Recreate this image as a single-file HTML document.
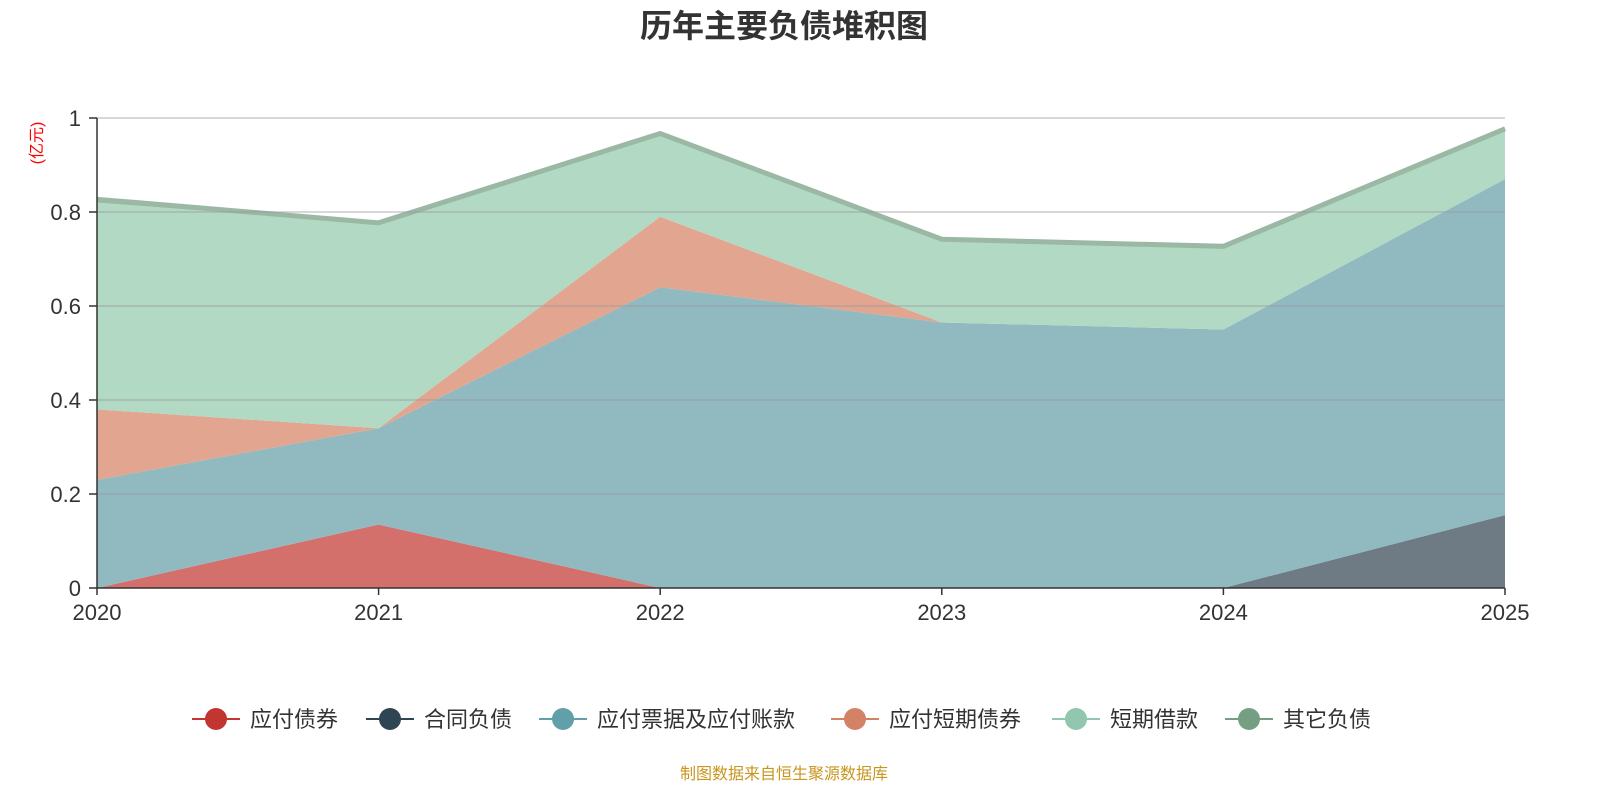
<!DOCTYPE html>
<html><head><meta charset="utf-8"><style>
body{margin:0;background:#fff;}
svg{display:block;font-family:"Liberation Sans","Noto Sans CJK SC",sans-serif;}
</style></head><body>
<svg id="c" width="1600" height="800">
<text x="784" y="37" text-anchor="middle" font-size="32" font-weight="bold" fill="#333">历年主要负债堆积图</text>
<text transform="translate(42,143) rotate(-90)" text-anchor="middle" font-size="16" fill="#f00">(亿元)</text>
<g id="areas"></g>
<g id="grid"></g>
<g id="axes"></g>
<g id="legend"></g>
<text x="784" y="779" text-anchor="middle" font-size="16" fill="#c8961e">制图数据来自恒生聚源数据库</text>
</svg>
<script>
const years=['2020','2021','2022','2023','2024','2025'];
const yTicks=[0,0.2,0.4,0.6,0.8,1];
const seriesNames=['应付债券','合同负债','应付票据及应付账款','应付短期债券','短期借款','其它负债'];
const bonds=[0,0.135,0,0,0,0];
const contract=[0,0,0,0,0,0.155];
const payables=[0.23,0.205,0.64,0.565,0.55,0.715];
const shortBonds=[0.15,0,0.15,0,0,0];
const shortLoans=[0.44,0.435,0.175,0.175,0.175,0.105];
const others=[0.01,0.005,0.005,0.005,0.005,0.005];
const fills=['#d4706c','#6e7b85','#91b9c0','#e1a590','#b2d9c4','#9ab8a4'];
const legendColors=['#c23531','#2f4554','#61a0a8','#d48265','#91c7ae','#749f83'];
const X0=97,X1=1505,Y0=588,Y1=118;
const xs=i=>X0+(X1-X0)*i/(years.length-1);
const ys=v=>Y0-(Y0-Y1)*v;
const NS='http://www.w3.org/2000/svg';
function mk(t,a,p){const e=document.createElementNS(NS,t);for(const k in a)e.setAttribute(k,a[k]);p.appendChild(e);return e;}
const data=[bonds,contract,payables,shortBonds,shortLoans,others];
const areas=document.getElementById('areas');
let base=years.map(()=>0);
data.forEach((s,k)=>{
  const top=base.map((b,i)=>b+s[i]);
  let d='M'+top.map((v,i)=>xs(i)+','+ys(v)).join('L');
  for(let i=years.length-1;i>=0;i--)d+='L'+xs(i)+','+ys(base[i]);
  const p=mk('path',{d:d+'Z',fill:fills[k]},areas);
  
  
  if(k===5){
    const l=mk('polyline',{points:top.map((v,i)=>xs(i)+','+ys(v-0.003)).join(' '),fill:'none',stroke:fills[5],'stroke-width':5},areas);
    
    
  }
  base=top;
});
const grid=document.getElementById('grid'),axes=document.getElementById('axes');
yTicks.forEach(t=>{
  if(t>0){const g=mk('line',{x1:X0,x2:X1,y1:ys(t),y2:ys(t),stroke:'#999','stroke-opacity':0.5,'stroke-width':1.5},grid);
  
  }
  const tk=mk('line',{x1:X0-8,x2:X0,y1:ys(t),y2:ys(t),stroke:'#333','stroke-width':1.5},axes);
  
  
  const tx=mk('text',{x:X0-16,y:ys(t)+8,'text-anchor':'end','font-size':22,fill:'#333'},axes);
  tx.textContent=String(t);
  
  
});
const ya=mk('line',{x1:X0,x2:X0,y1:Y1,y2:Y0,stroke:'#333','stroke-width':1.5},axes);


const xa=mk('line',{x1:X0,x2:X1,y1:Y0,y2:Y0,stroke:'#333','stroke-width':1.5},axes);


years.forEach((y,i)=>{
  const tk=mk('line',{x1:xs(i),x2:xs(i),y1:Y0,y2:Y0+7,stroke:'#333','stroke-width':1.5},axes);
  
  
  const tx=mk('text',{x:xs(i),y:Y0+32,'text-anchor':'middle','font-size':22,fill:'#333'},axes);
  tx.textContent=y;
  
  
});
const lg=document.getElementById('legend');
const lx=[216,390,563,855,1076,1249];
seriesNames.forEach((n,k)=>{
  const g=mk('g',{},lg);
  
  
  mk('line',{x1:lx[k]-24,x2:lx[k]+24,y1:719,y2:719,stroke:legendColors[k],'stroke-width':2},g);
  mk('circle',{cx:lx[k],cy:719,r:11,fill:legendColors[k]},g);
  const t=mk('text',{x:lx[k]+34,y:727,'font-size':22,fill:'#333'},g);
  t.textContent=n;
});
</script>
</body></html>
